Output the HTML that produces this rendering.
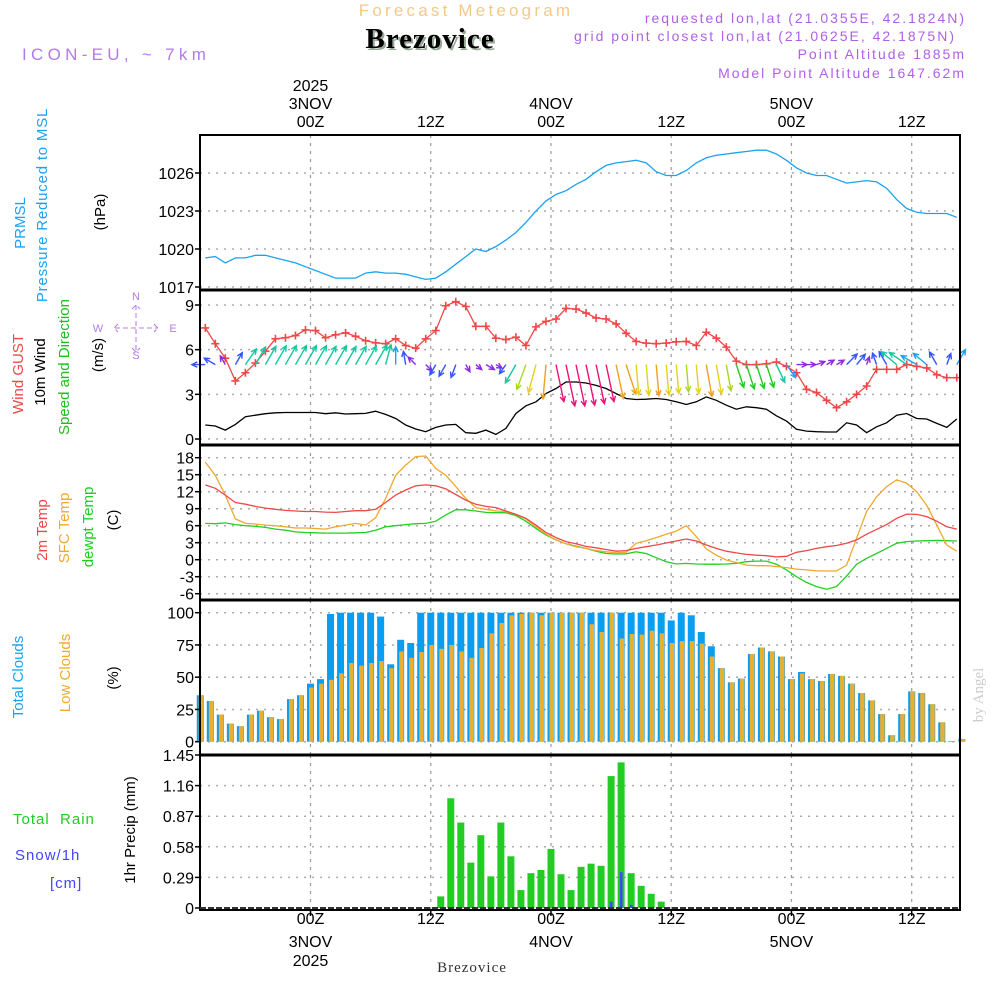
<!DOCTYPE html>
<html><head><meta charset="utf-8"><style>
html,body{margin:0;padding:0;background:#fff;}
svg{display:block;font-family:"Liberation Sans",sans-serif;}
</style></head><body>
<svg id="chart" width="1000" height="1000" viewBox="0 0 1000 1000" xmlns="http://www.w3.org/2000/svg">
<g id="hdr">
<text x="466" y="16" text-anchor="middle" font-size="17" fill="#f3c98a" letter-spacing="3.2">Forecast Meteogram</text>
<text x="432" y="50" text-anchor="middle" font-family="Liberation Serif,serif" font-weight="bold" font-size="29" fill="#9a9" letter-spacing="1">Brezovice</text>
<text x="430" y="48" text-anchor="middle" font-family="Liberation Serif,serif" font-weight="bold" font-size="29" fill="#000" letter-spacing="1">Brezovice</text>
<text x="22" y="60" font-size="17" fill="#b37be8" letter-spacing="4.3">ICON-EU, ~ 7km</text>
<g font-size="14" fill="#b060e8" text-anchor="end" letter-spacing="2">
<text x="966" y="23">requested lon,lat (21.0355E, 42.1824N)</text>
<text x="956" y="41">grid point closest lon,lat (21.0625E, 42.1875N)</text>
<text x="966" y="59">Point Altitude 1885m</text>
<text x="966" y="78">Model Point Altitude 1647.62m</text>
</g>
</g>
<g id="grid"></g>
<g id="marks"></g>
<g id="frame"></g>
<g id="labels"></g>
<g font-size="15" text-anchor="middle">
<text transform="translate(25,223) rotate(-90)" fill="#1aa3f0">PRMSL</text>
<text transform="translate(47,205) rotate(-90)" fill="#1aa3f0" letter-spacing="0.8">Pressure Reduced to MSL</text>
<text transform="translate(105,212) rotate(-90)" fill="#000">(hPa)</text>
<text transform="translate(23,374) rotate(-90)" fill="#f04848">Wind GUST</text>
<text transform="translate(45,372) rotate(-90)" fill="#000">10m Wind</text>
<text transform="translate(69,367) rotate(-90)" fill="#22bb22">Speed and Direction</text>
<text transform="translate(103,355) rotate(-90)" fill="#000">(m/s)</text>
<text transform="translate(47,530) rotate(-90)" fill="#f04848">2m Temp</text>
<text transform="translate(69,528) rotate(-90)" fill="#f0a830">SFC Temp</text>
<text transform="translate(93,527) rotate(-90)" fill="#22cc22">dewpt Temp</text>
<text transform="translate(118,520) rotate(-90)" fill="#000">(C)</text>
<text transform="translate(23,677) rotate(-90)" fill="#1aa3f0">Total Clouds</text>
<text transform="translate(70,673) rotate(-90)" fill="#f0a830">Low Clouds</text>
<text transform="translate(118,678) rotate(-90)" fill="#000">(%)</text>
<text transform="translate(135,830) rotate(-90)" fill="#000">1hr Precip (mm)</text>
</g>
<g font-size="15">
<text x="13" y="824" fill="#22cc22" xml:space="preserve" letter-spacing="1">Total  Rain</text>
<text x="15" y="860" fill="#4444ff" letter-spacing="1">Snow/1h</text>
<text x="50" y="888" fill="#4444ff" letter-spacing="1">[cm]</text>
</g>
<g>
<text x="136" y="300" font-size="11" text-anchor="middle" fill="#b37be8">N</text>
<text x="136" y="359" font-size="11" text-anchor="middle" fill="#b37be8">S</text>
<text x="98" y="332" font-size="11" text-anchor="middle" fill="#b37be8">W</text>
<text x="173" y="332" font-size="11" text-anchor="middle" fill="#b37be8">E</text>
<path d="M115,328H158M136,305V352M118,324L114,328L118,332M154,324L158,328L154,332M132,309L136,305L140,309M132,348L136,352L140,348" stroke="#b37be8" stroke-width="1" fill="none" stroke-dasharray="5,3"/>
</g>
<text x="472" y="972" text-anchor="middle" font-family="Liberation Serif,serif" font-size="15" fill="#333" letter-spacing="1">Brezovice</text>
<text transform="translate(983,695) rotate(-90)" text-anchor="middle" font-family="Liberation Serif,serif" font-size="15" fill="#ccc">by Angel</text>
</svg>
<script>
// ---- data (hourly) ----
const timeTicksTop = [["2025","3NOV","00Z"],["","","12Z"],["","4NOV","00Z"],["","","12Z"],["","5NOV","00Z"],["","","12Z"]];
const tickHours = [0,12,24,36,48,60];
const pressure = [1019.3,1019.4,1018.9,1019.3,1019.3,1019.5,1019.5,1019.3,1019.1,1018.9,1018.6,1018.3,1018.0,1017.7,1017.7,1017.7,1018.1,1018.2,1018.1,1018.1,1018.0,1017.8,1017.6,1017.7,1018.2,1018.8,1019.4,1020.0,1019.8,1020.2,1020.7,1021.3,1022.1,1023.0,1023.8,1024.3,1024.6,1025.1,1025.5,1026.1,1026.6,1026.8,1026.9,1027.0,1026.8,1026.1,1025.8,1025.8,1026.2,1026.8,1027.2,1027.4,1027.5,1027.6,1027.7,1027.8,1027.8,1027.5,1027.0,1026.4,1026.0,1025.8,1025.8,1025.5,1025.2,1025.3,1025.4,1025.3,1024.8,1023.9,1023.2,1022.9,1022.8,1022.8,1022.8,1022.5];
const pressureTicks = [1017,1020,1023,1026];
const gust = [7.46,6.4,5.43,3.9,4.45,5.1,5.9,6.73,6.8,6.95,7.33,7.28,6.8,7.0,7.13,6.9,6.6,6.46,6.4,6.73,6.28,6.1,6.73,7.28,8.95,9.22,8.9,7.57,7.57,6.77,6.68,6.84,6.28,7.53,7.9,8.06,8.77,8.73,8.46,8.13,8.06,7.73,7.1,6.55,6.44,6.4,6.44,6.53,6.55,6.28,7.17,6.77,6.17,5.23,5.0,5.0,5.05,5.17,4.88,4.45,3.34,3.12,2.6,2.1,2.5,3.0,3.56,4.68,4.68,4.68,5.0,4.88,4.77,4.32,4.12,4.12];
const windSpeed = [0.94,0.87,0.6,0.98,1.5,1.6,1.7,1.76,1.78,1.78,1.78,1.78,1.7,1.76,1.68,1.7,1.72,1.87,1.65,1.38,0.94,0.67,0.49,0.78,0.94,0.98,0.42,0.38,0.6,0.31,0.71,1.71,2.23,2.5,3.05,3.39,3.83,3.83,3.76,3.6,3.39,3.05,2.72,2.65,2.67,2.72,2.65,2.5,2.32,2.5,2.83,2.6,2.27,2.0,2.16,2.1,2.0,1.56,1.2,0.65,0.53,0.49,0.47,0.47,1.09,0.94,0.42,0.82,1.09,1.6,1.71,1.38,1.34,1.05,0.78,1.34];
const windToDir = [270,300,330,30,35,30,30,30,30,30,30,30,30,30,30,30,30,30,15,0,350,315,135,210,210,200,150,130,120,120,215,210,200,195,185,168,168,168,168,168,168,168,162,175,175,175,175,175,175,175,170,170,170,162,162,162,162,155,145,90,90,70,60,60,45,40,20,340,330,310,305,300,310,330,20,30];
const windTicks = [0,3,6,9];
const temp2m = [13.2,12.6,11.4,10.1,9.8,9.4,9.1,8.9,8.7,8.6,8.5,8.5,8.4,8.35,8.5,8.65,8.65,8.9,10.1,11.4,12.3,13.05,13.2,13.05,12.5,11.5,10.5,9.8,9.4,9.2,8.6,8.0,7.3,6.1,4.8,3.9,3.2,2.8,2.35,2.1,1.8,1.5,1.6,2.0,2.3,2.6,2.95,3.3,3.65,3.3,2.6,2.0,1.5,1.2,0.94,0.8,0.7,0.5,0.6,1.3,1.6,2.0,2.3,2.5,2.9,3.5,4.5,5.35,6.2,7.3,8.05,8.0,7.6,6.8,5.8,5.4];
const tempSfc = [17.2,14.9,11.4,7.2,6.4,6.3,6.1,6.0,5.8,5.6,5.6,5.5,5.4,5.8,6.1,6.4,6.1,7.4,10.8,14.9,16.7,18.2,18.3,16.1,14.9,12.9,10.8,9.2,8.9,8.6,8.5,8.0,7.2,5.8,4.5,3.5,2.8,2.3,2.0,1.6,1.4,1.2,1.3,2.9,3.35,3.9,4.5,5.05,6.0,4.1,1.9,0.8,-0.05,-0.5,-0.95,-1.05,-1.05,-1.2,-1.4,-1.65,-1.8,-1.95,-2.0,-2.0,-0.95,3.8,8.5,11.1,12.9,14.1,13.5,12.0,9.6,6.1,2.6,1.5];
const dewpt = [6.4,6.35,6.5,6.2,6.0,5.9,5.7,5.4,5.2,4.9,4.8,4.75,4.7,4.7,4.7,4.75,4.8,5.2,5.8,6.0,6.2,6.35,6.4,6.8,7.9,8.8,8.8,8.6,8.35,8.3,8.3,7.8,6.8,5.5,4.35,3.5,2.8,2.4,2.0,1.5,1.1,1.0,1.05,1.4,1.1,0.35,-0.35,-0.75,-0.65,-0.75,-0.8,-0.8,-0.75,-0.65,-0.35,-0.25,-0.25,-0.8,-1.8,-3.0,-4.0,-4.75,-5.2,-4.75,-2.9,-0.8,0.25,1.1,2.0,2.9,3.2,3.3,3.35,3.4,3.35,3.3];
const tempTicks = [-6,-3,0,3,6,9,12,15,18];
const totalCloud = [36,31.5,21,14,12,21,24,19,17.5,33,36,45,48.5,99,100,100,100,100,97,60,79,76.5,100,100,100,100,100,100,100,100,100,100,100,100,100,100,100,100,100,100,100,100,100,100,100,100,100,94,100,98,85,74,57,46,49,68,73,70,66,48.5,54,48.5,47,52.5,51,45,37.7,32,21.4,5,21.4,39,37.7,29,15,0.5,2];
const lowCloud = [36,31.5,21,14,12,21,24,19,17.5,33,36,42,45,48,53,61,59,61,62.5,57,70,65,69.5,75,72,75,70,65,72.6,84,92,98,99,100,98,100,100,100,100,91,85,100,80,83.5,83,86,84,76.5,78,78,76,66,57,46,49,68,73,70,66,48.5,53,48.5,47,52.5,51,45,37.7,32,21.4,5,21.4,39,37.7,29,15,0.5,2];
const cloudTicks = [0,25,50,75,100];
const rain = [0,0,0,0,0,0,0,0,0,0,0,0,0,0,0,0,0,0,0,0,0,0,0,0,0.11,1.04,0.81,0.43,0.69,0.30,0.81,0.49,0.17,0.33,0.36,0.56,0.32,0.17,0.39,0.42,0.40,1.25,1.38,0.33,0.21,0.135,0.06,0,0,0,0,0,0,0,0,0,0,0,0,0,0,0,0,0,0,0,0,0,0,0,0,0,0,0,0,0,0];
const snow = [0,0,0,0,0,0,0,0,0,0,0,0,0,0,0,0,0,0,0,0,0,0,0,0,0,0,0,0,0,0,0,0,0,0,0,0,0,0,0,0,0,0.06,0.34,0.03,0.006,0.006,0,0,0,0,0,0,0,0,0,0,0,0,0,0,0,0,0,0,0,0,0,0,0,0,0,0,0,0,0,0,0];
const precipTicks = ["0","0.29","0.58","0.87","1.16","1.45"];

// ---- geometry ----
const NS='http://www.w3.org/2000/svg';
const PL=200, PR=960;
const X = t => 310.5 + 10.02*t;
const lineT = i => -10.5 + i;
const barT = i => -11 + i;
const panels = {
  pres:{top:135,bot:290,v0:1017,y0:287,v1:1026,y1:173},
  wind:{top:290,bot:445,v0:0,y0:439,v1:9,y1:305},
  temp:{top:445,bot:600,v0:-6,y0:593.7,v1:18,y1:457.7},
  cloud:{top:600,bot:755,v0:0,y0:741.7,v1:100,y1:612.7},
  prec:{top:755,bot:910,v0:0,y0:908,v1:1.45,y1:755}
};
function Y(p,v){const P=panels[p];return P.y0+(v-P.v0)*(P.y1-P.y0)/(P.v1-P.v0);}
function mk(tag,attrs,parent,txt){const e=document.createElementNS(NS,tag);for(const k in attrs)e.setAttribute(k,attrs[k]);if(txt!==undefined)e.textContent=txt;parent.appendChild(e);return e;}
const G=document.getElementById('grid'),M=document.getElementById('marks'),F=document.getElementById('frame'),L=document.getElementById('labels');

for(const p in panels){
  const P=panels[p];
  for(const h of tickHours){
    const e=mk('line',{x1:X(h),x2:X(h),y1:P.top,y2:P.bot,stroke:'#999','stroke-dasharray':'3,5','stroke-width':1.2},G);
    
    
  }
}
function hgrid(p,vals){
  for(const v of vals){
    const y=Y(p,v);
    const e=mk('line',{x1:PL,x2:PR,y1:y,y2:y,stroke:'#aaa','stroke-dasharray':'2,6','stroke-width':1.5},G);
    
    
    const tk=mk('line',{x1:PL-5,x2:PL,y1:y,y2:y,stroke:'#000','stroke-width':1.5},F);
    
    
    const lab=mk('text',{x:PL-6,y:y+6,'text-anchor':'end','font-size':16,fill:'#000'},L,String(v));
    
    
  }
}
hgrid('pres',pressureTicks);hgrid('wind',windTicks);hgrid('temp',tempTicks);hgrid('cloud',cloudTicks);
precipTicks.forEach(s=>{
  const y=Y('prec',parseFloat(s));
  if(parseFloat(s)>0&&parseFloat(s)<1.45){const e=mk('line',{x1:PL,x2:PR,y1:y,y2:y,stroke:'#aaa','stroke-dasharray':'2,6','stroke-width':1.5},G);
  
  }
  const lab=mk('text',{x:PL-6,y:y+6,'text-anchor':'end','font-size':16,fill:'#000'},L,s);
  
  
  const tk=mk('line',{x1:PL-5,x2:PL,y1:y,y2:y,stroke:'#000','stroke-width':1.5},F);
  
  
});

function polyline(p,arr,color,name,w){
  const pts=arr.map((v,i)=>X(lineT(i)).toFixed(1)+','+Y(p,v).toFixed(1)).join(' ');
  const e=mk('polyline',{points:pts,fill:'none',stroke:color,'stroke-width':w||1.3},M);
  
  
}
polyline('pres',pressure,'#1aa3f0','pressure-line');
polyline('wind',windSpeed,'#000','wind-speed-line');
polyline('wind',gust,'#f04848','wind-gust-line');
gust.forEach((v,i)=>{
  const x=X(lineT(i)),y=Y('wind',v);
  const e=mk('path',{d:`M${x-4},${y}H${x+4}M${x},${y-4}V${y+4}`,stroke:'#f04848','stroke-width':1.6},M);
  
  
});
function windColor(s){
  if(s<0.7)return '#8a2be2';
  if(s<1.2)return '#3355ff';
  if(s<1.5)return '#1aa3f0';
  if(s<1.95)return '#12c8a0';
  if(s<2.2)return '#22cc22';
  if(s<2.45)return '#a8d820';
  if(s<2.7)return '#e8d020';
  if(s<3.2)return '#f0a020';
  return '#f0107a';
}
windToDir.forEach((d,i)=>{
  const s=windSpeed[i];
  const x0=X(lineT(i)),y0=Y('wind',5);
  const len=Math.max(7,4+10*s);
  const r=d*Math.PI/180;
  const x1=x0+len*Math.sin(r),y1=y0-len*Math.cos(r);
  const c=windColor(s);
  const ha=0.45,hl=6;
  const a1=r+Math.PI-ha,a2=r+Math.PI+ha;
  const e=mk('path',{d:`M${x0.toFixed(1)},${y0.toFixed(1)}L${x1.toFixed(1)},${y1.toFixed(1)}M${(x1+hl*Math.sin(a1)).toFixed(1)},${(y1-hl*Math.cos(a1)).toFixed(1)}L${x1.toFixed(1)},${y1.toFixed(1)}L${(x1+hl*Math.sin(a2)).toFixed(1)},${(y1-hl*Math.cos(a2)).toFixed(1)}`,stroke:c,'stroke-width':1.4,fill:'none'},M);
  
  
});
polyline('temp',dewpt,'#22d022','dewpoint-line');
polyline('temp',tempSfc,'#f0a830','sfc-temp-line');
polyline('temp',temp2m,'#f04848','temp-2m-line');
totalCloud.forEach((v,i)=>{
  const x=X(barT(i)),y0=Y('cloud',0),y=Y('cloud',v);
  const e=mk('rect',{x:x-3.5,y:y,width:7,height:Math.max(0,y0-y),fill:'#0a9df0'},M);
  
  
});
lowCloud.forEach((v,i)=>{
  const x=X(barT(i)),y0=Y('cloud',0),y=Y('cloud',v);
  const e=mk('rect',{x:x-1.5,y:y,width:4.5,height:Math.max(0,y0-y),fill:'#e8b030'},M);
  
  
});
rain.forEach((v,i)=>{
  if(v<=0)return;
  const x=X(barT(i)),y0=Y('prec',0),y=Y('prec',v);
  const e=mk('rect',{x:x-3.5,y:y,width:7,height:y0-y,fill:'#22cc22'},M);
  
  
});
snow.forEach((v,i)=>{
  if(v<=0)return;
  const x=X(barT(i)),y0=Y('prec',0),y=Y('prec',v);
  const e=mk('rect',{x:x-1.2,y:y,width:2.6,height:Math.max(1,y0-y),fill:'#4444ff'},M);
  
  
});

const fr=mk('rect',{x:PL,y:135,width:PR-PL,height:775,fill:'none',stroke:'#000','stroke-width':2},F);


[290,445,600,755].forEach(y=>{
  const e=mk('line',{x1:PL,x2:PR,y1:y,y2:y,stroke:'#000','stroke-width':3},F);
  
  
});
const zl=mk('line',{x1:PL,x2:PR,y1:908,y2:908,stroke:'#333','stroke-width':2,'stroke-dasharray':'6,2'},F);


tickHours.forEach((h,k)=>{
  const x=X(h);
  const [yr,day,hr]=timeTicksTop[k];
  const t1=mk('text',{x:x,y:127,'text-anchor':'middle','font-size':16,fill:'#000'},L,hr);
  
  
  if(day){const t2=mk('text',{x:x,y:109,'text-anchor':'middle','font-size':16,fill:'#000'},L,day);
    
    }
  if(yr){const t3=mk('text',{x:x,y:91,'text-anchor':'middle','font-size':16,fill:'#000'},L,yr);
    
    }
  const b1=mk('text',{x:x,y:924,'text-anchor':'middle','font-size':16,fill:'#000'},L,hr);
  
  
  if(day){const b2=mk('text',{x:x,y:947,'text-anchor':'middle','font-size':16,fill:'#000'},L,day);
    
    }
  if(yr){const b3=mk('text',{x:x,y:966,'text-anchor':'middle','font-size':16,fill:'#000'},L,yr);
    
    }
  const tk=mk('line',{x1:x,x2:x,y1:910,y2:916,stroke:'#000','stroke-width':1.5},F);
  
  
});
</script>
</body></html>
